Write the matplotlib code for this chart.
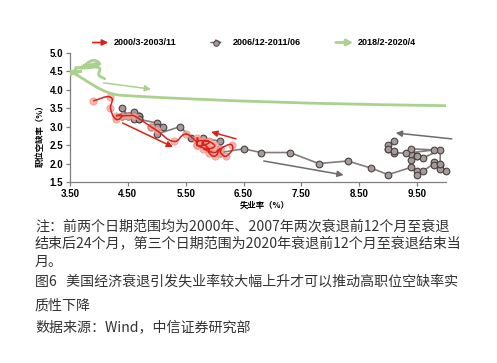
import numpy as np
import matplotlib
matplotlib.use('Agg')
import matplotlib.pyplot as plt
from matplotlib.path import Path
from matplotlib.patches import PathPatch

# 2000/3-2003/11 (unemployment %, job openings rate %)
red_x = [3.9, 4.2, 4.2, 4.3, 4.4, 4.3, 4.5, 4.6, 4.9, 5.0, 5.3, 5.5,
         5.7, 5.7, 5.7, 5.7, 5.9, 5.8, 5.8, 5.8, 5.7, 5.7, 5.7, 5.9,
         6.0, 5.8, 5.9, 5.9, 6.0, 6.1, 6.3, 6.2, 6.1, 6.1, 6.0, 5.8]
red_y = [3.7, 3.8, 3.5, 3.2, 3.3, 3.3, 3.3, 3.3, 3.0, 2.9, 2.6, 2.8,
         2.6, 2.7, 2.5, 2.6, 2.6, 2.5, 2.6, 2.5, 2.5, 2.6, 2.5, 2.4,
         2.5, 2.6, 2.4, 2.3, 2.2, 2.4, 2.5, 2.2, 2.3, 2.4, 2.3, 2.4]

# 2006/12-2011/06
gray_x = [4.4, 4.6, 4.5, 4.4, 4.5, 4.4, 4.6, 4.7, 4.6, 4.7, 4.7, 4.7, 5.0,
          5.0, 4.9, 5.1, 5.0, 5.4, 5.6, 5.8, 6.1, 6.1, 6.5, 6.8, 7.3,
          7.8, 8.3, 8.7, 9.0, 9.4, 9.5, 9.5, 9.6, 9.8, 10.0, 9.9, 9.9,
          9.8, 9.8, 9.9, 9.9, 9.6, 9.4, 9.4, 9.5, 9.5, 9.4, 9.8, 9.3,
          9.1, 9.0, 9.0, 9.1, 9.0, 9.1]
gray_y = [3.3, 3.4, 3.3, 3.5, 3.3, 3.3, 3.3, 3.3, 3.2, 3.2, 3.3, 3.2, 3.1,
          3.0, 3.0, 3.0, 2.8, 3.0, 2.7, 2.7, 2.6, 2.3, 2.4, 2.3, 2.3,
          2.0, 2.07, 1.88, 1.7, 1.9, 1.8, 1.7, 1.8, 2.0, 1.8, 1.95, 1.85,
          2.05, 1.95, 2.0, 2.37, 2.15, 2.1, 2.25, 2.2, 2.2, 2.4, 2.37, 2.28,
          2.3, 2.4, 2.5, 2.6, 2.4, 2.35]

# 2018/2-2020/4
green_x = [4.1, 4.0, 4.0, 3.8, 3.7, 4.0, 3.9, 3.7, 3.8, 3.7, 3.9, 4.0,
           3.8, 3.8, 3.6, 3.6, 3.6, 3.7, 3.6, 3.5, 3.6, 3.6, 3.6, 3.5,
           3.5, 4.4, 14.7]
green_y = [4.3, 4.4, 4.6, 4.6, 4.6, 4.7, 4.8, 4.6, 4.7, 4.6, 4.7, 4.7,
           4.6, 4.6, 4.6, 4.6, 4.5, 4.5, 4.5, 4.4, 4.5, 4.4, 4.5, 4.5,
           4.5, 3.85, 3.45]

labels = ['2000/3-2003/11', '2006/12-2011/06', '2018/2-2020/4']
x_ticks = [3.5, 4.5, 5.5, 6.5, 7.5, 8.5, 9.5]
y_ticks = [1.5, 2.0, 2.5, 3.0, 3.5, 4.0, 4.5, 5.0]

RED = '#d9221c'
PINK = '#f4a79c'
GRAY_LINE = '#857a7a'
GRAY_FACE = '#a59b9b'
GRAY_EDGE = '#4a4040'
GREEN = '#a9d28f'
ARROW_GRAY = '#6e6a6e'

CJK = ['Noto Sans CJK SC', 'DejaVu Sans']


def smooth_path(xs, ys):
    # Excel-like smoothed line through the points (cubic bezier segments)
    pts = np.column_stack([xs, ys]).astype(float)
    n = len(pts)
    verts = [pts[0]]
    codes = [Path.MOVETO]
    for i in range(n - 1):
        p0, p1, p2, p3 = pts[max(i - 1, 0)], pts[i], pts[i + 1], pts[min(i + 2, n - 1)]
        seg = np.hypot(*(p2 - p1))
        d1, d2 = p2 - p0, p3 - p1
        t1 = d1 / np.hypot(*d1) if np.hypot(*d1) > 0 else np.zeros(2)
        t2 = d2 / np.hypot(*d2) if np.hypot(*d2) > 0 else np.zeros(2)
        verts += [p1 + t1 * seg / 3, p2 - t2 * seg / 3, p2]
        codes += [Path.CURVE4] * 3
    return Path(verts, codes)


fig = plt.figure(figsize=(4.97, 3.63), dpi=100)
ax = fig.add_axes([70 / 497, 1 - 182 / 363, 376 / 497, 129 / 363])

# gray series
ax.plot(gray_x, gray_y, color=GRAY_LINE, lw=1.2, marker='o', ms=4.8,
        mfc=GRAY_FACE, mec=GRAY_EDGE, mew=0.8, zorder=2, clip_on=False)

# red series
ax.plot(red_x, red_y, ls='none', marker='o', ms=5.2, mfc=PINK, mec='#ee8e80',
        mew=0.6, alpha=0.8, zorder=3)
ax.add_patch(PathPatch(smooth_path(red_x, red_y), facecolor='none',
                       edgecolor=RED, lw=1.1, zorder=4))

# green series
ax.add_patch(PathPatch(smooth_path(green_x, green_y), facecolor='none',
                       edgecolor=GREEN, lw=2.0, zorder=5, capstyle='round'))

# direction arrows
arrows = [((4.41, 3.10), (5.28, 2.45), RED),
          ((6.37, 2.67), (5.94, 2.86), RED),
          ((6.85, 2.07), (8.23, 1.69), ARROW_GRAY),
          ((10.1, 2.67), (9.13, 2.83), ARROW_GRAY),
          ((4.08, 4.19), (4.9, 4.02), GREEN)]
for start, end, c in arrows:
    ax.annotate('', xy=end, xytext=start, annotation_clip=False,
                arrowprops=dict(arrowstyle='-|>', color=c, lw=1.1,
                                mutation_scale=9, shrinkA=0, shrinkB=0))

ax.set_xlim(3.5, 10.0)
ax.set_ylim(1.5, 5.0)
ax.set_xticks(x_ticks)
ax.set_yticks(y_ticks)
ax.set_xticklabels(['%.2f' % v for v in x_ticks])
ax.set_yticklabels(['%.1f' % v for v in y_ticks])
for s in ['top', 'right']:
    ax.spines[s].set_visible(False)
for s in ['left', 'bottom']:
    ax.spines[s].set_color('#7f7f7f')
    ax.spines[s].set_linewidth(0.9)
ax.tick_params(colors='#7f7f7f', length=3, width=0.9, pad=2)
for lab in ax.get_xticklabels() + ax.get_yticklabels():
    lab.set_fontfamily('Liberation Sans')
    lab.set_fontweight('bold')
    lab.set_fontsize(7)
    lab.set_color('black')

fig.text(40 / 497, 1 - 134 / 363, '职位空缺率（%）', rotation=90, ha='center',
         va='center', fontsize=6, fontweight='bold', family=CJK)
fig.text(265 / 497, 1 - 205 / 363, '失业率（%）', ha='center', va='center',
         fontsize=6, fontweight='bold', family=CJK)

# legend
ly = 1 - 42.5 / 363
def fig_arrow(x0, x1, c, lw):
    fig.add_artist(matplotlib.patches.FancyArrowPatch(
        (x0 / 497, ly), (x1 / 497, ly), transform=fig.transFigure,
        arrowstyle='-|>', color=c, lw=lw, mutation_scale=9))

fig_arrow(90, 111, RED, 1.2)
fig_arrow(208, 225, ARROW_GRAY, 1.0)
fig.add_artist(plt.Line2D([216 / 497], [ly], marker='o', ms=4, mfc=GRAY_FACE,
                          mec=GRAY_EDGE, mew=0.7, transform=fig.transFigure))
fig_arrow(333, 356, GREEN, 2.0)
for x0, t in zip([114, 233, 358], labels):
    fig.text(x0 / 497, ly, t, ha='left', va='center', fontsize=6.5,
             fontweight='bold', family='Liberation Sans')

# notes
notes = ['注：前两个日期范围均为2000年、2007年两次衰退前12个月至衰退',
         '结束后24个月，第三个日期范围为2020年衰退前12个月至衰退结束当',
         '月。',
         '图6   美国经济衰退引发失业率较大幅上升才可以推动高职位空缺率实',
         '质性下降',
         '数据来源：Wind，中信证券研究部']
note_y = [226, 244, 262, 281, 305, 328]
for t, y in zip(notes, note_y):
    fig.text(35 / 497, 1 - y / 363, t, ha='left', va='center', fontsize=10.1,
             color='#333333', family=CJK)

fig.savefig('out.png', dpi=100)
